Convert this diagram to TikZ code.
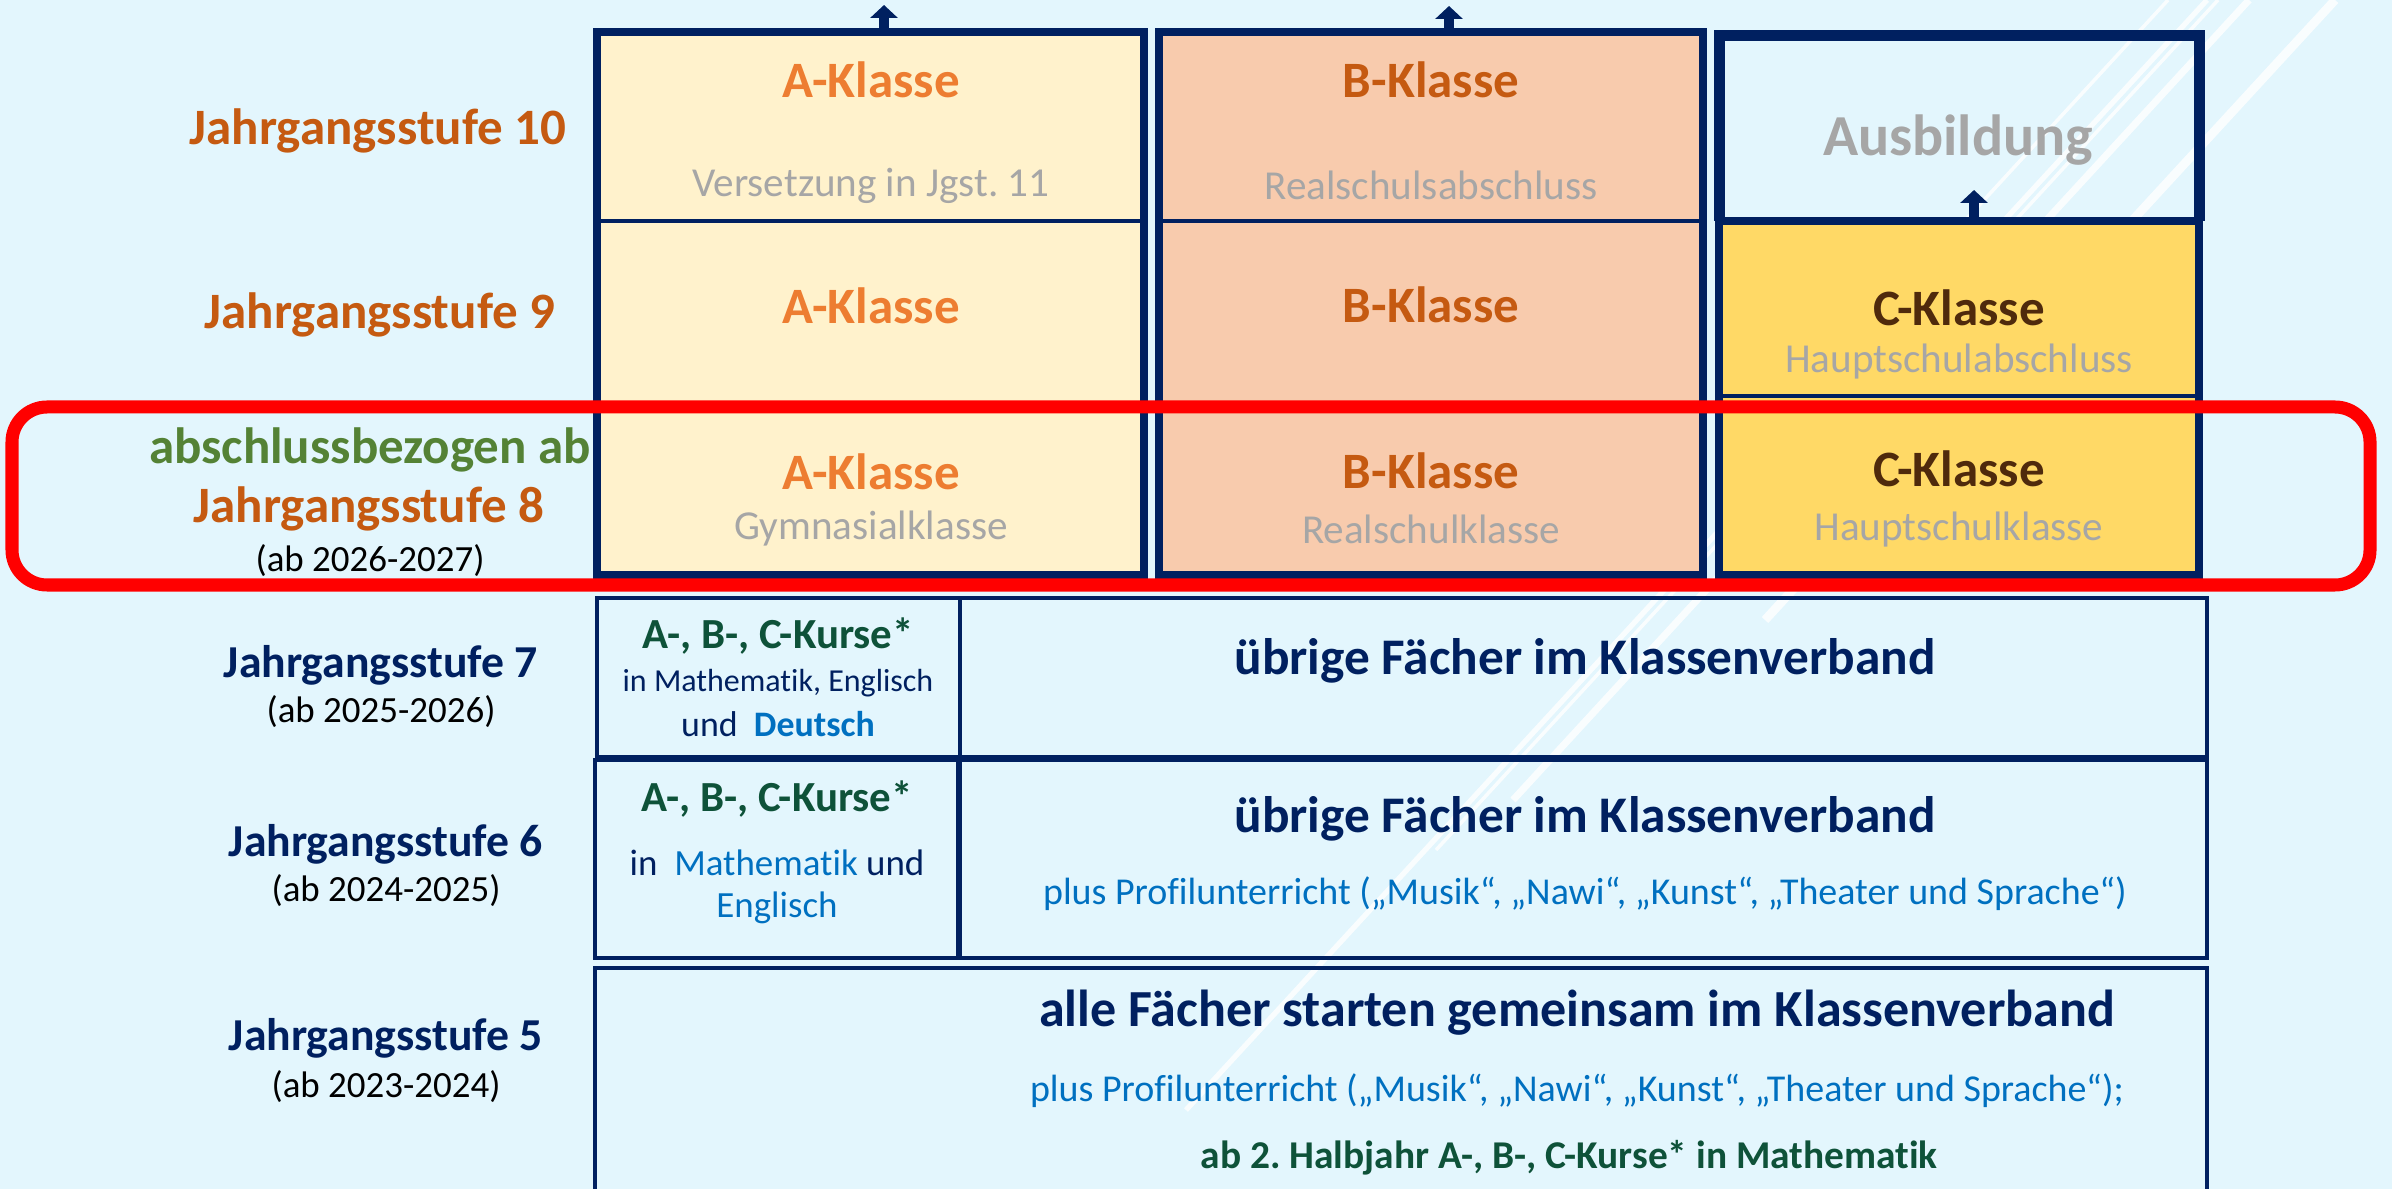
\documentclass[tikz,border=0pt]{standalone}
\usepackage{fontspec}
\setmainfont{Carlito}[Ligatures={TeX,NoCommon}]
\usetikzlibrary{arrows.meta}
\frenchspacing

\definecolor{hgcyan}{HTML}{E3F6FD}
\definecolor{navy}{HTML}{002060}
\definecolor{aklasse}{HTML}{FFF2CC}
\definecolor{bklasse}{HTML}{F8CBAD}
\definecolor{cklasse}{HTML}{FFD966}
\definecolor{orangeA}{HTML}{ED7D31}
\definecolor{orangeB}{HTML}{C55A11}
\definecolor{braunC}{HTML}{4F2A0C}
\definecolor{grauU}{HTML}{A6A6A6}
\definecolor{gruenJ}{HTML}{548235}
\definecolor{kursgruen}{HTML}{0E5239}
\definecolor{fachblau}{HTML}{0070C0}

\tikzset{
  titel/.style={font=\fontsize{14.5}{17}\selectfont\bfseries},
  untertitel/.style={font=\fontsize{11.7}{14}\selectfont, text=grauU},
  stufe/.style={font=\fontsize{14.5}{17}\selectfont\bfseries, text=orangeB},
  stufeklein/.style={font=\fontsize{13}{15}\selectfont\bfseries, text=navy},
  jahr/.style={font=\fontsize{10.5}{12}\selectfont},
  spalte/.style={draw=navy, line width=0.08cm},
  trenner/.style={navy, line width=0.035cm},
  kasten/.style={draw=navy, line width=0.9pt},
  kurs/.style={font=\fontsize{12.2}{14}\selectfont\bfseries, text=kursgruen},
  fach/.style={font=\fontsize{10.5}{12}\selectfont, text=navy},
  uebrig/.style={font=\fontsize{14.6}{17}\selectfont\bfseries, text=navy},
  profil/.style={font=\fontsize{10.8}{13}\selectfont, text=fachblau},
  pfeil/.style={navy, line width=0.1cm, -{Triangle[length=0.13cm,width=0.27cm]}},
  glanz/.style={white, opacity=0.8}
}

\begin{document}
\begin{tikzpicture}[x=0.01cm, y=-0.01cm]
    \useasboundingbox (0,0) rectangle (2392,1189);
    \fill[hgcyan] (0,0) rectangle (2392,1189);

    % helle Linien im Hintergrund
    \draw[glanz, line width=1.5pt] (2207,0) -- (1186,1110);
    \draw[glanz, line width=1pt] (2218,0) -- (1436,850);
    \draw[glanz, line width=2pt] (2249,0) -- (1513,800);
    \draw[glanz, line width=2.5pt] (2335,0) -- (1765,620);
    \draw[glanz, line width=1pt] (2168,0) -- (1892,300);

    % obere Spalten
    \draw[spalte, fill=aklasse] (597,32) rectangle (1144,575);
    \draw[trenner] (597,221) -- (1144,221);
    \draw[spalte, fill=bklasse] (1159,32) rectangle (1703,575);
    \draw[trenner] (1159,221) -- (1703,221);
    \draw[spalte, fill=cklasse] (1719,221) rectangle (2199,575);
    \draw[spalte, line width=0.11cm] (1719,221) -- (1719,36) -- (2199,36) -- (2199,221);
    \draw[trenner] (1719,221) -- (2199,221);
    \draw[trenner] (1719,396) -- (2199,396);

    \coordinate (pfA0) at (884,30);
    \coordinate (pfA1) at (884,5);
    \coordinate (pfB0) at (1449,30);
    \coordinate (pfB1) at (1449,6);
    \coordinate (pfC0) at (1974,219);
    \coordinate (pfC1) at (1974,190);
    \draw[pfeil] (pfA0) -- (pfA1);
    \draw[pfeil] (pfB0) -- (pfB1);
    \draw[pfeil] (pfC0) -- (pfC1);

    \node[titel, text=orangeA] (a10) at (871,80) {A-Klasse};
    \node[untertitel] (a10u) at (871,186) {Versetzung in Jgst. 11};
    \node[titel, text=orangeA] (a9) at (871,306) {A-Klasse};
    \node[titel, text=orangeA] (a8) at (871,472) {A-Klasse};
    \node[untertitel] (a8u) at (871,529) {Gymnasialklasse};

    \node[titel, text=orangeB] (b10) at (1431,80) {B-Klasse};
    \node[untertitel] (b10u) at (1431,185) {Realschulsabschluss};
    \node[titel, text=orangeB] (b9) at (1431,305) {B-Klasse};
    \node[titel, text=orangeB] (b8) at (1431,471) {B-Klasse};
    \node[untertitel] (b8u) at (1431,529) {Realschulklasse};

    \node[font=\fontsize{16.5}{19}\selectfont\bfseries, text=grauU] (c10) at (1958,140) {Ausbildung};
    \node[titel, text=braunC] (c9) at (1959,308) {C-Klasse};
    \node[untertitel] (c9u) at (1959,362) {Hauptschulabschluss};
    \node[titel, text=braunC] (c8) at (1959,469) {C-Klasse};
    \node[untertitel] (c8u) at (1959,530) {Hauptschulklasse};

    % Markierung Jahrgangsstufe 8
    \draw[red, line width=0.13cm, rounded corners=0.35cm] (12,407) rectangle (2370,585);

    % Stufen links
    \node[stufe] (j10) at (378,131) {Jahrgangsstufe 10};
    \node[stufe] (j9) at (380,315) {Jahrgangsstufe 9};
    \node[stufe, text=gruenJ] (j8a) at (370,450) {abschlussbezogen ab};
    \node[stufe] (j8) at (369,509) {Jahrgangsstufe 8};
    \node[jahr] (j8j) at (370,561) {(ab 2026-2027)};
    \node[stufeklein] (j7) at (381,665) {Jahrgangsstufe 7};
    \node[jahr] (j7j) at (381,712) {(ab 2025-2026)};
    \node[stufeklein] (j6) at (386,844) {Jahrgangsstufe 6};
    \node[jahr] (j6j) at (386,891) {(ab 2024-2025)};
    \node[stufeklein] (j5) at (386,1038) {Jahrgangsstufe 5};
    \node[jahr] (j5j) at (386,1087) {(ab 2023-2024)};

    % untere Kaesten
    \draw[kasten] (597,598) rectangle (960,757);
    \draw[kasten] (960,598) rectangle (2207,757);
    \draw[kasten] (595,760) rectangle (958,958);
    \draw[kasten] (960,760) rectangle (2207,958);
    \draw[kasten] (595,968) rectangle (2207,1200);

    \node[kurs] (k7) at (778,636) {A-, B-, C-Kurse*};
    \node[fach, font=\fontsize{9.1}{11}\selectfont] (k7f) at (778,683) {in Mathematik, Englisch};
    \node[fach, font=\fontsize{10.2}{12}\selectfont] (k7d) at (778,724) {und~~\textcolor{fachblau}{\bfseries Deutsch}};
    \node[uebrig] (u7) at (1585,661) {übrige Fächer im Klassenverband};

    \node[kurs] (k6) at (777,799) {A-, B-, C-Kurse*};
    \node[fach] (k6f) at (777,863) {in~~\textcolor{fachblau}{Mathematik} und};
    \node[fach, text=fachblau] (k6e) at (777,908) {Englisch};
    \node[uebrig] (u6) at (1585,819) {übrige Fächer im Klassenverband};
    \node[profil] (p6) at (1585,894) {plus Profilunterricht („Musik“, „Nawi“, „Kunst“, „Theater und Sprache“)};

    \node[uebrig, font=\fontsize{14.8}{17}\selectfont\bfseries] (u5) at (1577,1013) {alle Fächer starten gemeinsam im Klassenverband};
    \node[profil] (p5) at (1577,1091) {plus Profilunterricht („Musik“, „Nawi“, „Kunst“, „Theater und Sprache“);};
    \node[kurs, font=\fontsize{11.2}{13}\selectfont\bfseries] (k5) at (1569,1158) {ab 2. Halbjahr A-, B-, C-Kurse* in Mathematik};
\end{tikzpicture}
\end{document}
